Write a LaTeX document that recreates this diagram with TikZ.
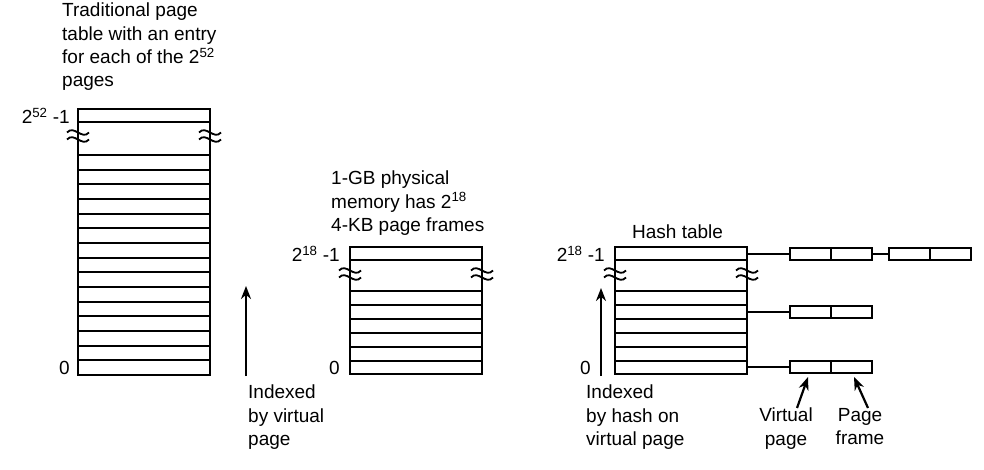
\documentclass[tikz,border=0pt]{standalone}
\usepackage{fontspec}
\setmainfont{Liberation Sans}
\usetikzlibrary{arrows.meta}

\tikzset{
  lbl/.style={inner sep=0pt,font=\fontsize{19}{23.3}\selectfont,align=left},
  cell/.style={draw,line width=2pt,minimum width=41pt,minimum height=12pt,inner sep=0pt},
  link/.style={line width=1.6pt},
  ptr/.style={line width=2.2pt,-{Stealth[length=13pt,width=10pt]}}
}
% break mark: two small waves
\newcommand{\brkmark}[2]{
  \foreach \dy in {-3.5,3.5}
    \draw[line width=1.8pt] (#1-11,#2+\dy) .. controls (#1-4,#2+\dy-8) and (#1+4,#2+\dy+8) .. (#1+11,#2+\dy);
}
% table: left x, right x, top y, first row y, rows, row height
\newcommand{\pagetable}[6]{
  \draw[line width=2pt] (#1,#3) rectangle (#2,#3+13);
  \draw[line width=2pt] (#1,#3+13) -- (#1,#4+#5*#6) -- (#2,#4+#5*#6) -- (#2,#3+13);
  \foreach \r in {0,...,#5}
    \draw[line width=2pt] (#1,#4+\r*#6) -- (#2,#4+\r*#6);
  \brkmark{#1}{#3+27}
  \brkmark{#2}{#3+27}
}

\begin{document}
\begin{tikzpicture}[x=1pt,y=-1pt]
\useasboundingbox (0,0) rectangle (984,470);

% traditional table
\pagetable{78}{210}{109}{155}{15}{14.67}
\node[lbl,anchor=north west] (tradtitle) at (62,3) {Traditional page\\table with an entry\\for each of the 2\textsuperscript{52}\\pages};
\node[lbl,anchor=east] (tradtop) at (70,116) {2\textsuperscript{52} -1};
\node[lbl,anchor=east] (tradzero) at (70,368) {0};
\coordinate (tradfoot) at (246,376);
\coordinate (tradhead) at (246,286);
\draw[ptr] (tradfoot) -- (tradhead);
\node[lbl,anchor=north west] (tradidx) at (248,385) {Indexed\\by virtual\\page};

% physical memory
\pagetable{350}{482}{247}{291}{6}{13.9}
\node[lbl,anchor=north west] (memtitle) at (331,171) {1-GB physical\\memory has 2\textsuperscript{18}\\4-KB page frames};
\node[lbl,anchor=east] (memtop) at (340,254) {2\textsuperscript{18} -1};
\node[lbl,anchor=east] (memzero) at (340,368) {0};

% hash table
\pagetable{615}{747}{247}{291}{6}{13.9}
\node[lbl,anchor=west] (hashtitle) at (632,232) {Hash table};
\node[lbl,anchor=east] (hashtop) at (605,254) {2\textsuperscript{18} -1};
\node[lbl,anchor=east] (hashzero) at (591,368) {0};
\coordinate (hashfoot) at (601,376);
\coordinate (hashhead) at (601,288);
\draw[ptr] (hashfoot) -- (hashhead);
\node[lbl,anchor=north west] (hashidx) at (586,385) {Indexed\\by hash on\\virtual page};

% chains
\coordinate (rowa) at (747,254);
\coordinate (rowb) at (747,312);
\coordinate (rowc) at (747,367);
\node[cell] (va) at (810.5,254) {};
\node[cell] (fa) at (851.5,254) {};
\node[cell] (vb) at (909.5,254) {};
\node[cell] (fb) at (950.5,254) {};
\node[cell] (vc) at (810.5,312) {};
\node[cell] (fc) at (851.5,312) {};
\node[cell] (vd) at (810.5,367) {};
\node[cell] (fd) at (851.5,367) {};
\draw[link] (rowa) -- (va.west);
\draw[link] (fa.east) -- (vb.west);
\draw[link] (rowb) -- (vc.west);
\draw[link] (rowc) -- (vd.west);

\node[lbl,align=center,anchor=north] (vplbl) at (786,408) {Virtual\\page};
\node[lbl,align=center,anchor=north] (pflbl) at (860,408) {Page\\frame};
\draw[ptr] (797,408) -- (808,377);
\draw[ptr] (868,408) -- (854,377);
\end{tikzpicture}
\end{document}
